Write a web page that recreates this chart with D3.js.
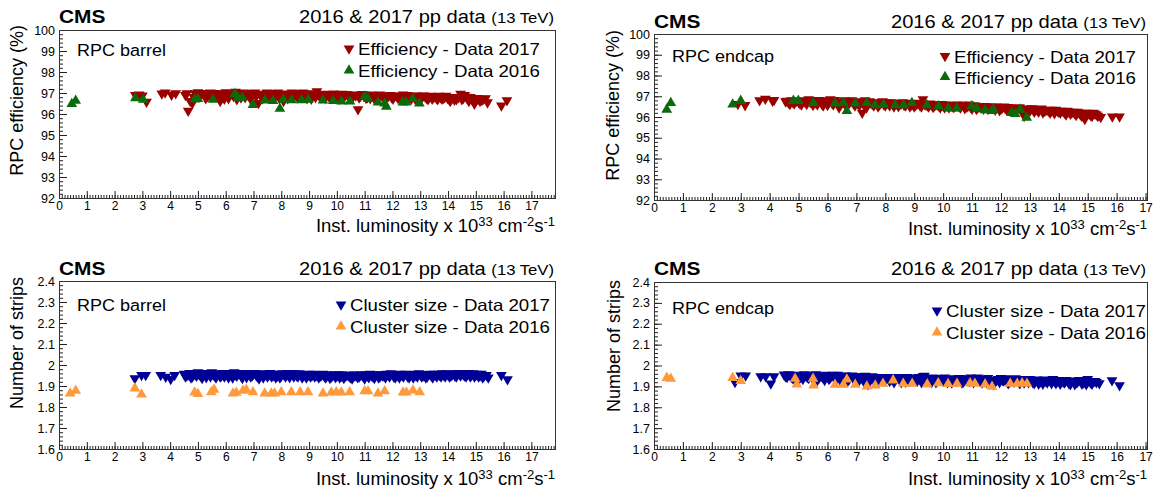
<!DOCTYPE html>
<html>
<head>
<meta charset="utf-8">
<script src="https://cdn.jsdelivr.net/npm/d3@7"></script>
<style>
  body { margin: 0; background: #fff; }
  svg { display: block; }
  text { font-family: "Liberation Sans", Arial, Helvetica, sans-serif; fill: #000; }
</style>
</head>
<body>
<svg id="chart" width="1159" height="493"></svg>
<script>
// ---- data: [luminosity, value] ----
var barrelEff2017 = [[2.75,96.9],[2.88,96.92],[3.0,96.88],[3.15,96.58],[3.7,96.97],[3.82,97.02],[4.05,96.92],[4.2,96.98],
  [4.6,96.98],[4.65,96.15],[4.72,96.62],[4.8,96.52],[4.9,96.98],[5.0,97.03],[5.1,96.92],[5.22,96.98],[5.35,96.85],[5.45,97.02],
  [5.55,96.95],[5.68,96.98],[5.8,96.62],[5.9,96.9],[6.0,97.03],[6.1,96.75],[6.2,96.98],[6.35,97.06],[6.45,96.92],[6.55,96.78],
  [6.65,97.02],[6.75,96.92],[6.85,96.98],[6.95,96.82],[7.05,97.02],[7.18,96.52],[7.28,96.96],[7.38,96.88],[7.48,97.02],[7.58,96.92],
  [7.68,96.98],[7.78,96.82],[7.88,97.02],[7.98,96.92],[8.08,96.62],[8.18,96.97],[8.28,96.88],[8.38,97.02],[8.48,96.92],[8.58,96.78],
  [8.68,96.97],[8.78,97.02],[8.88,96.86],[8.98,96.96],[9.08,96.72],[9.18,96.92],[9.28,97.08],[9.38,96.86],[9.48,96.96],[9.58,96.76],
  [9.68,96.92],[9.78,96.86],[9.88,96.97],[9.98,96.9],[10.08,96.72],[10.18,96.96],[10.28,96.86],[10.38,96.92],[10.48,96.8],[10.6,96.92],
  [10.76,96.22],[10.85,96.86],[10.95,96.92],[11.05,96.76],[11.15,96.88],[11.25,96.92],[11.35,96.72],[11.45,96.86],[11.55,96.92],
  [11.68,96.76],[11.8,96.82],[11.92,96.9],[12.02,96.72],[12.15,96.86],[12.25,96.82],[12.38,96.92],[12.48,96.76],[12.58,96.86],
  [12.68,96.72],[12.78,96.82],[12.88,96.88],[12.98,96.76],[13.08,96.86],[13.18,96.82],[13.28,96.7],[13.38,96.86],[13.48,96.8],
  [13.58,96.76],[13.68,96.86],[13.78,96.72],[13.88,96.8],[13.98,96.76],[14.08,96.62],[14.18,96.8],[14.3,96.7],[14.45,96.96],
  [14.55,96.76],[14.65,96.82],[14.75,96.62],[14.85,96.72],[14.95,96.48],[15.05,96.76],[15.15,96.62],[15.28,96.72],[15.42,96.55],
  [15.92,96.4],[16.12,96.65],
  [4.55,96.9],[4.85,96.8],[4.95,96.9],[5.05,96.85],[5.15,97.0],[5.28,96.75],[5.4,96.92],[5.5,96.85],[5.62,97.0],[5.75,96.8],
  [5.85,96.95],[5.95,96.72],[6.05,96.9],[6.15,96.95],[6.28,96.85],[6.4,96.7],[6.5,97.0],[6.6,96.9],[6.7,96.8],[6.8,97.0],[6.9,96.7],
  [7.0,96.95],[7.1,96.85],[7.22,96.95],[7.33,96.75],[7.43,96.95],[7.53,96.8],[7.63,97.0],[7.73,96.9],[7.83,96.95],[7.93,96.75],
  [8.03,96.95],[8.13,96.85],[8.23,96.75],[8.33,96.95],[8.43,96.8],[8.53,97.0],[8.63,96.88],[8.73,96.8],[8.83,96.95],[8.93,96.75],
  [9.03,96.9],[9.13,96.98],[9.23,96.8],[9.33,96.92],[9.43,96.78],[9.53,96.9],[9.63,96.95],[9.73,96.8],[9.83,96.92],[9.93,96.78],
  [10.03,96.92],[10.13,96.85],[10.23,96.78],[10.33,96.95],[10.43,96.85],[10.55,96.75],[10.68,96.88],[10.8,96.78],[10.9,96.95],
  [11.0,96.85],[11.1,96.8],[11.2,96.75],[11.3,96.9],[11.4,96.82],[11.5,96.78],[11.62,96.88],[11.74,96.7],[11.86,96.86],[11.97,96.8],
  [12.08,96.88],[12.2,96.76],[12.32,96.85],[12.43,96.7],[12.53,96.9],[12.63,96.8],[12.73,96.86],[12.83,96.7],[12.93,96.82],
  [13.03,96.72],[13.13,96.88],[13.23,96.76],[13.33,96.82],[13.43,96.72],[13.53,96.85],[13.63,96.7],[13.73,96.8],[13.83,96.76],
  [13.93,96.86],[14.03,96.72],[14.13,96.75],[14.23,96.68],[14.38,96.8],[14.5,96.7],[14.6,96.9],[14.7,96.72],[14.8,96.8],[14.9,96.7],
  [15.0,96.62],[15.1,96.72],[15.22,96.66],[15.35,96.75]];
var barrelEff2016 = [[0.46,96.48],[0.6,96.63],[2.75,96.76],[3.03,96.68],[4.89,96.7],[5.0,96.72],[5.54,96.68],[6.33,96.95],
  [6.45,96.75],[6.6,96.78],[6.98,96.43],[7.41,96.65],[7.7,96.62],[7.95,96.25],[8.07,96.68],[8.37,96.66],[8.73,96.66],[8.97,96.68],
  [9.5,96.65],[9.87,96.62],[10.17,96.6],[10.47,96.6],[11.0,96.84],[11.12,96.73],[11.48,96.55],[11.72,96.5],[11.78,96.35],
  [12.37,96.55],[12.49,96.55],[12.73,96.72],[12.97,96.5]];

var endcapEff2017 = [[2.9,96.62],[3.15,96.57],[3.65,96.8],[3.85,96.88],[4.1,96.78],[4.15,96.82],[4.55,96.75],[4.65,96.7],
  [4.75,96.8],[4.85,96.65],[5.0,96.72],[5.1,96.6],[5.2,96.75],[5.35,96.85],[5.45,96.7],[5.55,96.8],[5.65,96.6],[5.75,96.75],
  [5.85,96.55],[5.95,96.8],[6.05,96.7],[6.1,96.85],[6.2,96.6],[6.3,96.75],[6.4,96.45],[6.5,96.7],[6.6,96.8],[6.7,96.6],[6.8,96.75],
  [6.9,96.65],[7.0,96.75],[7.1,96.55],[7.2,96.2],[7.3,96.8],[7.4,96.65],[7.5,96.7],[7.6,96.55],[7.7,96.7],[7.8,96.6],[7.9,96.75],
  [8.0,96.55],[8.1,96.65],[8.2,96.7],[8.3,96.5],[8.4,96.65],[8.5,96.6],[8.6,96.7],[8.7,96.55],[8.8,96.65],[8.9,96.6],[9.0,96.5],
  [9.1,96.65],[9.2,96.55],[9.3,96.85],[9.4,96.6],[9.5,96.5],[9.6,96.6],[9.7,96.55],[9.8,96.6],[9.9,96.45],[10.0,96.55],[10.1,96.6],
  [10.2,96.45],[10.3,96.55],[10.4,96.5],[10.5,96.6],[10.6,96.45],[10.7,96.55],[10.8,96.5],[10.9,96.6],[11.0,96.4],[11.1,96.55],
  [11.2,96.45],[11.3,96.5],[11.4,96.4],[11.5,96.5],[11.6,96.45],[11.7,96.5],[11.8,96.35],[11.9,96.45],[12.0,96.4],[12.1,96.5],
  [12.2,96.35],[12.3,96.45],[12.4,96.4],[12.5,96.3],[12.6,96.45],[12.7,96.35],[12.8,96.05],[12.9,96.4],[13.0,96.3],[13.1,96.4],
  [13.2,96.35],[13.3,96.25],[13.4,96.4],[13.5,96.3],[13.6,96.35],[13.7,96.2],[13.8,96.3],[13.9,96.35],[14.0,96.25],[14.1,96.3],
  [14.2,96.2],[14.3,96.3],[14.4,96.15],[14.5,96.25],[14.6,96.1],[14.7,96.2],[14.8,96.05],[14.9,95.9],[15.0,96.2],[15.1,96.1],
  [15.25,96.15],[15.35,96.05],[15.45,96.0],[15.85,96.02],[16.1,96.02],
  [4.6,96.78],[4.7,96.62],[4.8,96.72],[4.92,96.78],[5.05,96.65],[5.15,96.8],[5.28,96.62],[5.4,96.72],[5.5,96.58],[5.6,96.7],
  [5.7,96.82],[5.8,96.65],[5.9,96.72],[6.0,96.58],[6.15,96.7],[6.25,96.82],[6.35,96.65],[6.45,96.6],[6.55,96.72],[6.65,96.5],
  [6.75,96.68],[6.85,96.8],[6.95,96.55],[7.05,96.68],[7.15,96.72],[7.25,96.6],[7.35,96.45],[7.45,96.75],[7.55,96.62],[7.65,96.66],
  [7.75,96.5],[7.85,96.68],[7.95,96.6],[8.05,96.7],[8.15,96.55],[8.25,96.62],[8.35,96.68],[8.45,96.52],[8.55,96.65],[8.65,96.58],
  [8.75,96.68],[8.85,96.5],[8.95,96.62],[9.05,96.58],[9.15,96.68],[9.25,96.5],[9.35,96.62],[9.45,96.55],[9.55,96.65],[9.65,96.48],
  [9.75,96.6],[9.85,96.55],[9.95,96.62],[10.05,96.45],[10.15,96.55],[10.25,96.58],[10.35,96.48],[10.45,96.55],[10.55,96.5],
  [10.65,96.58],[10.75,96.42],[10.85,96.52],[10.95,96.48],[11.05,96.55],[11.15,96.38],[11.25,96.5],[11.35,96.45],[11.45,96.52],
  [11.55,96.38],[11.65,96.48],[11.75,96.42],[11.85,96.5],[11.95,96.32],[12.05,96.45],[12.15,96.42],[12.25,96.48],[12.35,96.3],
  [12.45,96.42],[12.55,96.38],[12.65,96.45],[12.75,96.25],[12.85,96.38],[12.95,96.35],[13.05,96.42],[13.15,96.25],[13.25,96.35],
  [13.35,96.38],[13.45,96.22],[13.55,96.32],[13.65,96.3],[13.75,96.35],[13.85,96.18],[13.95,96.3],[14.05,96.2],[14.15,96.28],
  [14.25,96.12],[14.35,96.25],[14.45,96.22],[14.55,96.18],[14.65,96.25],[14.75,96.12],[14.85,96.2],[14.95,96.1],[15.05,96.15],
  [15.15,96.05],[15.2,96.2],[15.3,96.12]];
var endcapEff2016 = [[0.44,96.36],[0.58,96.68],[2.72,96.61],[3.0,96.78],[4.82,96.78],[4.99,96.78],[5.51,96.68],[6.26,96.66],
  [6.55,96.68],[6.67,96.29],[6.96,96.66],[7.36,96.68],[7.65,96.57],[7.94,96.61],[8.34,96.57],[8.63,96.57],[8.92,96.68],
  [9.44,96.57],[9.84,96.52],[10.18,96.41],[10.47,96.41],[10.99,96.52],[11.16,96.41],[11.45,96.33],[11.68,96.29],[11.74,96.36],
  [12.37,96.2],[12.49,96.15],[12.66,96.36],[12.89,95.97]];

var barrelCls2017 = [[2.73,1.937],[2.97,1.952],[3.12,1.952],[3.66,1.952],[3.84,1.944],[4.02,1.933],[4.16,1.952],
  [4.5,1.958],[4.6,1.95],[4.7,1.962],[4.8,1.945],[4.9,1.955],[5.0,1.965],[5.1,1.95],[5.2,1.96],[5.3,1.942],[5.4,1.958],[5.5,1.965],
  [5.6,1.95],[5.7,1.96],[5.8,1.945],[5.9,1.962],[6.0,1.955],[6.1,1.94],[6.2,1.958],[6.3,1.965],[6.4,1.948],[6.5,1.96],[6.6,1.938],
  [6.7,1.955],[6.8,1.962],[6.9,1.945],[7.0,1.958],[7.1,1.95],[7.2,1.935],[7.3,1.96],[7.4,1.952],[7.5,1.945],[7.6,1.962],[7.7,1.95],
  [7.8,1.94],[7.9,1.958],[8.0,1.948],[8.1,1.955],[8.2,1.962],[8.3,1.942],[8.4,1.955],[8.5,1.96],[8.6,1.945],[8.7,1.955],[8.8,1.95],
  [8.9,1.94],[9.0,1.958],[9.1,1.95],[9.2,1.945],[9.3,1.955],[9.4,1.948],[9.5,1.958],[9.6,1.94],[9.7,1.952],[9.8,1.945],[9.9,1.955],
  [10.0,1.948],[10.1,1.94],[10.2,1.955],[10.3,1.948],[10.4,1.952],[10.5,1.942],[10.6,1.955],[10.7,1.948],[10.8,1.945],[10.9,1.955],
  [11.0,1.935],[11.1,1.95],[11.2,1.958],[11.3,1.945],[11.4,1.952],[11.5,1.94],[11.6,1.955],[11.7,1.948],[11.8,1.958],[11.9,1.945],
  [12.0,1.955],[12.1,1.94],[12.2,1.95],[12.3,1.958],[12.4,1.945],[12.5,1.955],[12.6,1.94],[12.7,1.952],[12.8,1.958],[12.9,1.945],
  [13.0,1.955],[13.1,1.948],[13.2,1.94],[13.3,1.955],[13.4,1.948],[13.5,1.958],[13.6,1.945],[13.7,1.952],[13.8,1.96],[13.9,1.945],
  [14.0,1.955],[14.1,1.948],[14.2,1.96],[14.3,1.945],[14.4,1.958],[14.5,1.962],[14.6,1.95],[14.7,1.958],[14.8,1.945],[14.9,1.96],
  [15.0,1.952],[15.1,1.945],[15.2,1.958],[15.3,1.95],[15.45,1.94],[15.92,1.952],[16.14,1.932],
  [4.55,1.945],[4.65,1.955],[4.75,1.94],[4.85,1.96],[4.95,1.948],[5.05,1.955],[5.15,1.938],[5.25,1.955],[5.35,1.962],[5.45,1.945],
  [5.55,1.955],[5.65,1.94],[5.75,1.958],[5.85,1.95],[5.95,1.945],[6.05,1.962],[6.15,1.952],[6.25,1.94],[6.35,1.955],[6.45,1.96],
  [6.55,1.948],[6.65,1.962],[6.75,1.942],[6.85,1.955],[6.95,1.95],[7.05,1.962],[7.15,1.945],[7.25,1.955],[7.35,1.94],[7.45,1.958],
  [7.55,1.952],[7.65,1.945],[7.75,1.958],[7.85,1.948],[7.95,1.94],[8.05,1.96],[8.15,1.945],[8.25,1.952],[8.35,1.96],[8.45,1.945],
  [8.55,1.95],[8.65,1.96],[8.75,1.94],[8.85,1.955],[8.95,1.948],[9.05,1.945],[9.15,1.958],[9.25,1.95],[9.35,1.94],[9.45,1.952],
  [9.55,1.946],[9.65,1.955],[9.75,1.938],[9.85,1.95],[9.95,1.942],[10.05,1.955],[10.15,1.946],[10.25,1.938],[10.35,1.952],
  [10.45,1.945],[10.55,1.935],[10.65,1.95],[10.75,1.942],[10.85,1.952],[10.95,1.945],[11.05,1.955],[11.15,1.942],[11.25,1.95],
  [11.35,1.938],[11.45,1.955],[11.55,1.945],[11.65,1.95],[11.75,1.94],[11.85,1.952],[11.95,1.96],[12.05,1.945],[12.15,1.952],
  [12.25,1.94],[12.35,1.95],[12.45,1.958],[12.55,1.945],[12.65,1.952],[12.75,1.94],[12.85,1.95],[12.95,1.96],[13.05,1.945],
  [13.15,1.955],[13.25,1.945],[13.35,1.958],[13.45,1.94],[13.55,1.952],[13.65,1.958],[13.75,1.945],[13.85,1.952],[13.95,1.96],
  [14.05,1.945],[14.15,1.955],[14.25,1.948],[14.35,1.962],[14.45,1.95],[14.55,1.955],[14.65,1.945],[14.75,1.962],[14.85,1.952],
  [14.95,1.945],[15.05,1.958],[15.15,1.95],[15.25,1.94],[15.38,1.952]];
var barrelCls2016 = [[0.4,1.865],[0.6,1.878],[2.73,1.889],[2.97,1.86],[4.88,1.869],[5.0,1.862],[5.48,1.871],[5.58,1.883],
  [6.26,1.865],[6.38,1.868],[6.62,1.878],[6.74,1.882],[6.98,1.871],[7.4,1.865],[7.64,1.865],[7.76,1.865],[8.0,1.871],[8.36,1.871],
  [8.68,1.871],[8.96,1.871],[9.5,1.865],[9.8,1.869],[9.98,1.871],[10.16,1.869],[10.46,1.871],[11.0,1.875],[11.12,1.875],
  [11.48,1.865],[11.72,1.875],[12.38,1.869],[12.5,1.869],[12.74,1.879],[12.98,1.871]];

var endcapCls2017 = [[2.8,1.921],[3.0,1.952],[3.17,1.952],[3.69,1.948],[3.86,1.948],[4.04,1.913],[4.15,1.948],[4.5,1.956],
  [4.6,1.945],[4.7,1.955],[4.8,1.94],[4.9,1.952],[5.0,1.93],[5.1,1.948],[5.2,1.958],[5.3,1.945],[5.4,1.952],[5.5,1.935],[5.6,1.958],
  [5.7,1.94],[5.8,1.95],[5.9,1.93],[6.0,1.948],[6.1,1.942],[6.2,1.955],[6.3,1.93],[6.4,1.948],[6.5,1.938],[6.6,1.952],[6.7,1.925],
  [6.8,1.945],[6.9,1.935],[7.0,1.948],[7.1,1.93],[7.2,1.94],[7.3,1.95],[7.4,1.91],[7.5,1.942],[7.6,1.932],[7.7,1.945],[7.8,1.925],
  [7.9,1.94],[8.0,1.93],[8.1,1.945],[8.2,1.935],[8.3,1.92],[8.4,1.94],[8.5,1.93],[8.6,1.945],[8.7,1.922],[8.8,1.938],[8.9,1.93],
  [9.0,1.942],[9.1,1.925],[9.2,1.935],[9.3,1.948],[9.4,1.93],[9.5,1.94],[9.6,1.92],[9.7,1.935],[9.8,1.928],[9.9,1.94],[10.0,1.925],
  [10.1,1.935],[10.2,1.93],[10.3,1.918],[10.4,1.935],[10.5,1.928],[10.6,1.94],[10.7,1.922],[10.8,1.932],[10.9,1.925],[11.0,1.938],
  [11.1,1.93],[11.2,1.942],[11.3,1.925],[11.4,1.935],[11.5,1.92],[11.6,1.93],[11.75,1.91],[11.9,1.935],[12.0,1.94],[12.1,1.928],
  [12.2,1.935],[12.3,1.922],[12.4,1.93],[12.5,1.938],[12.6,1.925],[12.7,1.935],[12.8,1.918],[12.9,1.93],[13.0,1.935],[13.1,1.92],
  [13.2,1.93],[13.3,1.912],[13.4,1.925],[13.5,1.932],[13.6,1.918],[13.7,1.928],[13.8,1.935],[13.9,1.915],[14.0,1.925],[14.1,1.93],
  [14.2,1.918],[14.3,1.925],[14.4,1.91],[14.5,1.928],[14.6,1.918],[14.7,1.93],[14.8,1.912],[14.9,1.922],[15.0,1.935],[15.1,1.918],
  [15.25,1.925],[15.4,1.915],[15.84,1.929],[16.1,1.905],
  [4.55,1.948],[4.65,1.958],[4.75,1.945],[4.85,1.935],[4.95,1.955],[5.05,1.945],[5.15,1.935],[5.25,1.952],[5.35,1.94],[5.45,1.955],
  [5.55,1.945],[5.65,1.93],[5.75,1.952],[5.85,1.942],[5.95,1.955],[6.05,1.935],[6.15,1.95],[6.25,1.94],[6.35,1.955],[6.45,1.928],
  [6.55,1.945],[6.65,1.95],[6.75,1.935],[6.85,1.952],[6.95,1.942],[7.05,1.93],[7.15,1.948],[7.25,1.925],[7.35,1.942],[7.45,1.935],
  [7.55,1.948],[7.65,1.92],[7.75,1.938],[7.85,1.945],[7.95,1.928],[8.05,1.94],[8.15,1.925],[8.25,1.945],[8.35,1.932],[8.45,1.942],
  [8.55,1.92],[8.65,1.935],[8.75,1.945],[8.85,1.925],[8.95,1.938],[9.05,1.93],[9.15,1.945],[9.25,1.92],[9.35,1.95],[9.45,1.935],
  [9.55,1.928],[9.65,1.942],[9.75,1.92],[9.85,1.935],[9.95,1.93],[10.05,1.942],[10.15,1.92],[10.25,1.938],[10.35,1.93],
  [10.45,1.925],[10.55,1.94],[10.65,1.918],[10.75,1.935],[10.85,1.928],[10.95,1.942],[11.05,1.92],[11.15,1.935],[11.25,1.928],
  [11.35,1.918],[11.45,1.932],[11.55,1.94],[11.65,1.922],[11.85,1.93],[11.95,1.92],[12.05,1.93],[12.15,1.938],[12.25,1.915],
  [12.35,1.928],[12.45,1.922],[12.55,1.932],[12.65,1.915],[12.75,1.928],[12.85,1.935],[12.95,1.92],[13.05,1.928],[13.15,1.915],
  [13.25,1.932],[13.35,1.922],[13.45,1.912],[13.55,1.925],[13.65,1.93],[13.75,1.915],[13.85,1.925],[13.95,1.928],[14.05,1.912],
  [14.15,1.922],[14.25,1.93],[14.35,1.915],[14.45,1.925],[14.55,1.91],[14.65,1.922],[14.75,1.928],[14.85,1.918],[14.95,1.91],
  [15.05,1.925],[15.15,1.912],[15.3,1.92]];
var endcapCls2016 = [[0.44,1.941],[0.58,1.937],[2.72,1.941],[3.0,1.926],[4.88,1.937],[4.94,1.909],[5.5,1.937],[5.52,1.905],
  [6.26,1.908],[6.55,1.908],[6.67,1.933],[6.96,1.908],[7.36,1.9],[7.65,1.905],[7.92,1.913],[8.27,1.929],[8.62,1.913],[8.93,1.913],
  [9.45,1.91],[9.83,1.915],[10.17,1.912],[10.48,1.913],[10.93,1.915],[11.1,1.913],[11.45,1.91],[11.69,1.899],[12.32,1.913],
  [12.56,1.913],[12.73,1.915],[12.9,1.913]];

var effTicks = [92, 93, 94, 95, 96, 97, 98, 99, 100];
var clsTicks = [1.6, 1.7, 1.8, 1.9, 2.0, 2.1, 2.2, 2.3, 2.4];
var lumiTicks = d3.range(0, 18);
var effLegend = ["Efficiency - Data 2017", "Efficiency - Data 2016"];
var clsLegend = ["Cluster size - Data 2017", "Cluster size - Data 2016"];

var svg = d3.select("#chart");

function stretchText(sel, x, y, str, size, sx, anchor, weight) {
  return sel.append("text")
    .attr("transform", "translate(" + x + "," + y + ") scale(" + sx + ",1)")
    .attr("font-size", size)
    .attr("font-weight", weight || "normal")
    .attr("text-anchor", anchor || "start")
    .text(str);
}

function drawPanel(p) {
  var g = svg.append("g");
  var x = d3.scaleLinear().domain([0, p.xmax]).range([p.left, p.right]);
  var y = d3.scaleLinear().domain([p.ticks[0], p.ticks[p.ticks.length - 1]]).range([p.bottom, p.top]);

  // minor ticks
  g.append("g").attr("transform", "translate(" + p.left + ",0)")
    .call(d3.axisLeft(y).tickValues(y.ticks(40)).tickSize(-4).tickFormat(""))
    .call(a => a.select(".domain").remove());
  g.append("g").attr("transform", "translate(0," + p.bottom + ")")
    .call(d3.axisBottom(x).tickValues(x.ticks(180)).tickSize(-3).tickFormat(""))
    .call(a => a.select(".domain").remove());

  // major ticks + labels
  g.append("g").attr("transform", "translate(" + p.left + ",0)")
    .call(d3.axisLeft(y).tickValues(p.ticks).tickSize(-8).tickPadding(4).tickFormat(d3.format("~g")))
    .call(a => a.select(".domain").remove())
    .call(a => a.selectAll("text").attr("font-size", 12.5).attr("font-family", null));
  g.append("g").attr("transform", "translate(0," + p.bottom + ")")
    .call(d3.axisBottom(x).tickValues(lumiTicks).tickSize(-7).tickPadding(3.5))
    .call(a => a.select(".domain").remove())
    .call(a => a.selectAll("text").attr("font-size", 12).attr("font-family", null));
  g.selectAll(".tick line").attr("stroke", "#222");

  // frame
  g.append("rect")
    .attr("x", p.left + 0.5).attr("y", p.top + 0.5)
    .attr("width", p.right - p.left).attr("height", p.bottom - p.top)
    .attr("fill", "none").attr("stroke", "#333").attr("stroke-width", 1);

  // markers: 2017 first, 2016 drawn on top
  var tri = d3.symbol().type(d3.symbolTriangle).size(50);
  g.append("g").selectAll("path").data(p.s17).join("path")
    .attr("d", tri)
    .attr("transform", d => "translate(" + x(d[0]) + "," + y(d[1]) + ") rotate(180)")
    .attr("fill", p.c17);
  g.append("g").selectAll("path").data(p.s16).join("path")
    .attr("d", tri)
    .attr("transform", d => "translate(" + x(d[0]) + "," + y(d[1]) + ")")
    .attr("fill", p.c16);

  // header texts
  stretchText(g, p.left, p.hy, "CMS", 18.5, 1.13, "start", "bold");
  var h = stretchText(g, p.right - 1, p.hy, "2016 & 2017 pp data ", 17.5, 1.15, "end");
  h.append("tspan").attr("font-size", 14.5).text("(13 TeV)");
  stretchText(g, p.left + 18, p.ry, p.region, 17, 1.06, "start");

  // legend
  p.legend.forEach(function (name, i) {
    var ly = p.ly[i];
    g.append("path").attr("d", tri)
      .attr("transform", "translate(" + p.lx + "," + (ly - 6.5) + ")" + (i === 0 ? " rotate(180)" : ""))
      .attr("fill", i === 0 ? p.c17 : p.c16);
    stretchText(g, p.lx + 9, ly, name, 16.5, 1.13, "start");
  });

  // axis titles
  g.append("text")
    .attr("transform", "translate(" + p.yt[0] + "," + p.yt[1] + ") rotate(-90)")
    .attr("text-anchor", "end").attr("font-size", 18).text(p.ytitle);
  var xt = g.append("text").attr("x", p.right).attr("y", p.xty)
    .attr("text-anchor", "end").attr("font-size", 18.5);
  xt.append("tspan").text("Inst. luminosity x 10");
  xt.append("tspan").attr("font-size", 13).attr("dy", -6).text("33");
  xt.append("tspan").attr("dy", 6).text(" cm");
  xt.append("tspan").attr("font-size", 13).attr("dy", -6).text("-2");
  xt.append("tspan").attr("dy", 6).text("s");
  xt.append("tspan").attr("font-size", 13).attr("dy", -6).text("-1");
}

var red = "#990000", green = "#0b6b0b", blue = "#000096", orange = "#ff9a3c";

drawPanel({ left: 59, right: 555, top: 30, bottom: 198, xmax: 17.85, ticks: effTicks,
  s17: barrelEff2017, s16: barrelEff2016, c17: red, c16: green, region: "RPC barrel",
  legend: effLegend, ytitle: "RPC efficiency (%)",
  hy: 23, ry: 56, lx: 349, ly: [55, 77], yt: [23, 25], xty: 232 });
drawPanel({ left: 654, right: 1147, top: 34, bottom: 200, xmax: 17.05, ticks: effTicks,
  s17: endcapEff2017, s16: endcapEff2016, c17: red, c16: green, region: "RPC endcap",
  legend: effLegend, ytitle: "RPC efficiency (%)",
  hy: 28, ry: 62, lx: 945, ly: [62.5, 83.5], yt: [619, 30], xty: 235 });
drawPanel({ left: 59, right: 555, top: 281, bottom: 449, xmax: 17.85, ticks: clsTicks,
  s17: barrelCls2017, s16: barrelCls2016, c17: blue, c16: orange, region: "RPC barrel",
  legend: clsLegend, ytitle: "Number of strips",
  hy: 275, ry: 311, lx: 341, ly: [311, 333], yt: [23, 277], xty: 485 });
drawPanel({ left: 654, right: 1147, top: 282, bottom: 449, xmax: 17.05, ticks: clsTicks,
  s17: endcapCls2017, s16: endcapCls2016, c17: blue, c16: orange, region: "RPC endcap",
  legend: clsLegend, ytitle: "Number of strips",
  hy: 275, ry: 314, lx: 937, ly: [317, 339], yt: [620, 280], xty: 485 });
</script>
</body>
</html>
